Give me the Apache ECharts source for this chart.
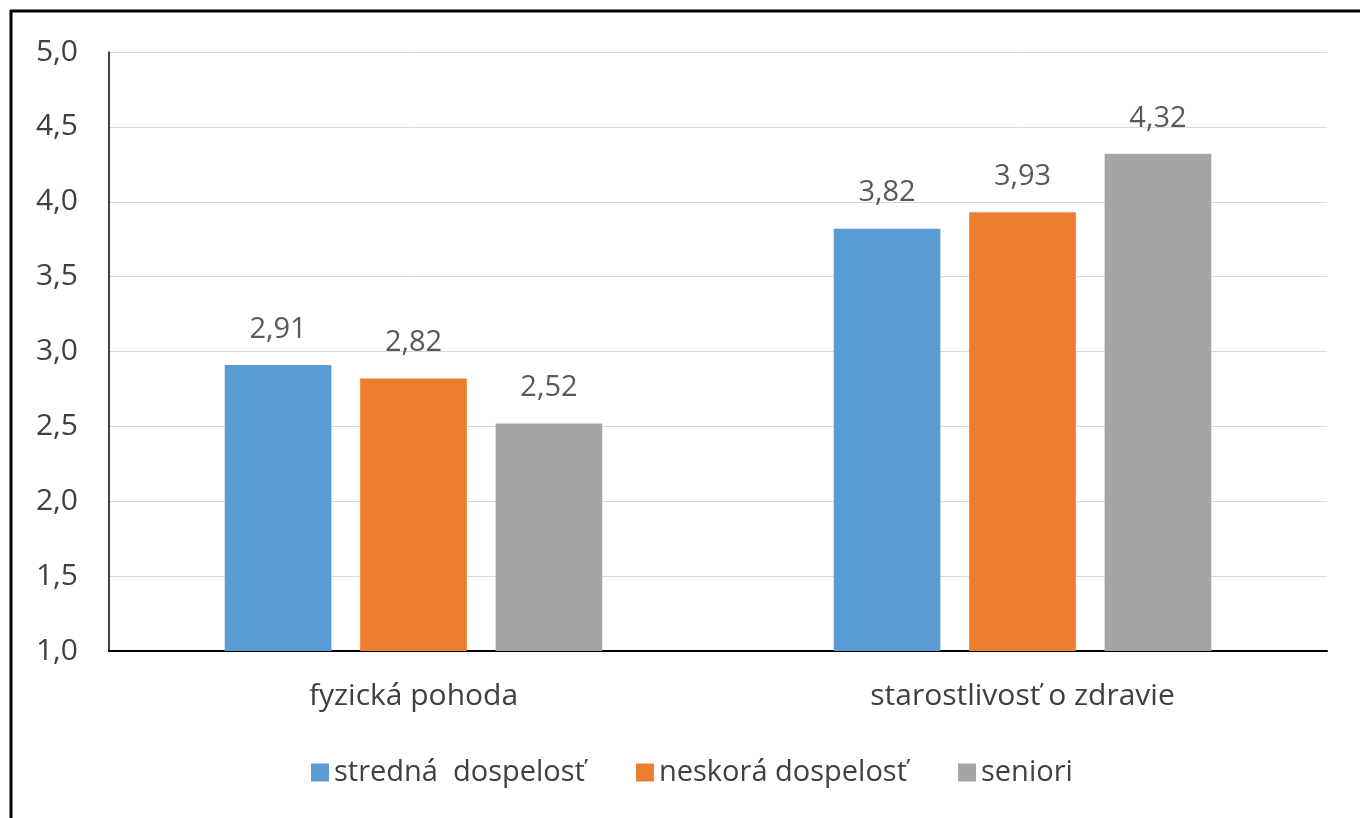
<!DOCTYPE html>
<html><head><meta charset="utf-8">
<script src="https://cdn.jsdelivr.net/npm/echarts@6/dist/echarts.min.js"></script>
<style>html,body{margin:0;padding:0;background:#fff}#c{width:1360px;height:818px}</style>
</head><body><div id="c"></div>
<script>
const categories = ['fyzická pohoda', 'starostlivosť o zdravie'];
const seriesNames = ['stredná  dospelosť', 'neskorá dospelosť', 'seniori'];
const strednaValues = [2.91, 3.82];
const neskoraValues = [2.82, 3.93];
const senioriValues = [2.52, 4.32];
const colors = ['#5B9BD5', '#ED7D31', '#A5A5A5'];
const FONT = 'Open Sans';
const fmt = v => v.toFixed(2).replace('.', ',');
const chart = echarts.init(document.getElementById('c'));
const mk = (name, data, color) => ({
  name, type: 'bar', data, barGap: '27%', barCategoryGap: '38%',
  itemStyle: { color },
  label: { show: true, position: 'top', distance: 21, color: '#595959', fontSize: 29, fontFamily: FONT,
    formatter: p => fmt(p.value) }
});
chart.setOption({
  animation: false,
  grid: { left: 109, right: 33, top: 52, bottom: 167, containLabel: false },
  legend: {
    bottom: 26, left: 306, itemWidth: 18, itemHeight: 18, itemGap: 51,
    icon: 'rect',
    textStyle: { fontSize: 29, color: '#404040', fontFamily: FONT },
    data: seriesNames
  },
  xAxis: {
    type: 'category', data: categories,
    axisLine: { lineStyle: { color: '#000', width: 2 } },
    axisTick: { show: false },
    axisLabel: { fontSize: 30, color: '#404040', fontFamily: FONT, margin: 30 }
  },
  yAxis: {
    type: 'value', min: 1, max: 5, interval: 0.5,
    axisLine: { show: true, lineStyle: { color: '#000', width: 1.5 } },
    axisTick: { show: false },
    splitLine: { lineStyle: { color: '#D9D9D9', width: 1 } },
    axisLabel: { fontSize: 30, color: '#404040', fontFamily: FONT, margin: 31,
      formatter: v => v.toFixed(1).replace('.', ',') }
  },
  graphic: [
    { type: 'line', shape: { x1: 10, y1: 11, x2: 1360, y2: 11 }, style: { stroke: '#000', lineWidth: 3 } },
    { type: 'line', shape: { x1: 11, y1: 10, x2: 11, y2: 818 }, style: { stroke: '#000', lineWidth: 3 } }
  ],
  series: [
    mk(seriesNames[0], strednaValues, colors[0]),
    mk(seriesNames[1], neskoraValues, colors[1]),
    mk(seriesNames[2], senioriValues, colors[2])
  ]
});
</script></body></html>
